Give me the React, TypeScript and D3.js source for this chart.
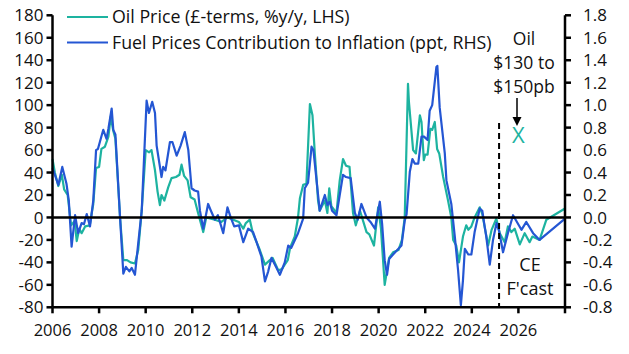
import React from "react";
import { scaleLinear, line, range } from "d3";

// Oil price, £-terms, % y/y (LHS) — [year, value]
const oilSeries: [number, number][] = [
  [2006.0, 52], [2006.1, 40], [2006.25, 28], [2006.4, 38], [2006.5, 25], [2006.65, 20],
  [2006.8, -7], [2006.95, -3], [2007.04, -21], [2007.15, -10], [2007.25, -14], [2007.4, -8],
  [2007.6, -7], [2007.75, 12], [2007.87, 44], [2008.0, 45], [2008.1, 61], [2008.25, 63],
  [2008.4, 72], [2008.5, 90], [2008.6, 78], [2008.7, 70], [2008.9, 0], [2009.04, -38],
  [2009.2, -38], [2009.35, -40], [2009.54, -41], [2009.68, -29], [2009.83, 6], [2010.0, 60],
  [2010.15, 58], [2010.25, 60], [2010.4, 42], [2010.51, 23], [2010.61, 11], [2010.68, 20],
  [2010.8, 15], [2010.97, 27], [2011.11, 35], [2011.3, 36], [2011.45, 38], [2011.54, 47],
  [2011.65, 37], [2011.8, 33], [2011.93, 18], [2012.1, 16], [2012.25, 4], [2012.47, -13],
  [2012.6, 0], [2012.97, -2], [2013.25, -4], [2013.51, 0], [2013.76, -2], [2014.0, -4],
  [2014.19, -10], [2014.3, -5], [2014.47, -2], [2014.6, -14], [2014.9, -29], [2015.12, -42],
  [2015.33, -38], [2015.45, -36], [2015.69, -47], [2015.85, -46], [2016.0, -41], [2016.1, -38],
  [2016.2, -27], [2016.4, -17], [2016.54, 0], [2016.62, 17], [2016.76, 29], [2016.9, 30],
  [2017.05, 101], [2017.16, 91], [2017.26, 57], [2017.4, 15], [2017.47, 6], [2017.69, 15],
  [2017.8, 4], [2017.88, 26], [2017.97, 10], [2018.19, 4], [2018.33, 33], [2018.47, 52],
  [2018.6, 46], [2018.75, 45], [2018.9, 4], [2019.02, -7], [2019.2, 6], [2019.48, -13],
  [2019.6, -15], [2019.8, -25], [2019.98, 9], [2020.1, -10], [2020.26, -60], [2020.45, -36],
  [2020.62, -31], [2020.85, -29], [2021.0, -20], [2021.12, 0], [2021.26, 119], [2021.3, 103],
  [2021.48, 60], [2021.6, 57], [2021.77, 91], [2021.84, 85], [2021.94, 51], [2022.0, 56],
  [2022.1, 56], [2022.22, 79], [2022.3, 78], [2022.41, 85], [2022.51, 61], [2022.6, 57],
  [2022.77, 36], [2022.98, 15], [2023.12, 0], [2023.2, -20], [2023.33, -25], [2023.45, -40],
  [2023.62, -17], [2023.76, -7], [2023.85, -11], [2023.98, -8], [2024.12, 0], [2024.34, 9],
  [2024.45, 3], [2024.7, -25], [2024.85, -11], [2025.05, -1], [2025.2, -14], [2025.41, -22],
  [2025.55, -8], [2025.7, -13], [2025.84, -10], [2026.06, -24], [2026.27, -14], [2026.48, -22],
  [2026.6, -17], [2026.91, -20], [2027.2, -2], [2028.0, 8],
];

// Fuel prices contribution to CPI inflation, ppt (RHS) — [year, value]
const fuelSeries: [number, number][] = [
  [2006.0, 0.44], [2006.25, 0.29], [2006.42, 0.45], [2006.6, 0.3], [2006.7, 0.15], [2006.82, -0.26],
  [2006.97, 0.02], [2007.1, -0.14], [2007.25, -0.05], [2007.35, -0.06], [2007.47, 0.03], [2007.61, -0.08],
  [2007.75, 0.15], [2007.87, 0.6], [2007.95, 0.61], [2008.11, 0.73], [2008.18, 0.78], [2008.32, 0.7],
  [2008.4, 0.79], [2008.54, 0.97], [2008.61, 0.78], [2008.7, 0.74], [2008.9, 0.0], [2009.04, -0.5],
  [2009.15, -0.44], [2009.3, -0.48], [2009.4, -0.45], [2009.54, -0.51], [2009.68, -0.23], [2009.83, 0.06],
  [2010.04, 1.04], [2010.14, 0.93], [2010.28, 1.03], [2010.4, 0.93], [2010.47, 0.64], [2010.68, 0.36],
  [2010.75, 0.45], [2010.85, 0.42], [2011.04, 0.67], [2011.15, 0.67], [2011.33, 0.55], [2011.5, 0.64],
  [2011.68, 0.76], [2011.83, 0.6], [2011.97, 0.26], [2012.1, 0.24], [2012.25, 0.23], [2012.33, 0.06],
  [2012.47, -0.1], [2012.68, 0.12], [2012.8, 0.06], [2012.97, -0.02], [2013.1, 0.02], [2013.33, -0.14],
  [2013.51, 0.09], [2013.65, 0.0], [2013.8, -0.08], [2014.0, -0.07], [2014.19, -0.22], [2014.4, -0.1],
  [2014.61, -0.13], [2014.76, -0.22], [2014.97, -0.35], [2015.12, -0.57], [2015.26, -0.48], [2015.4, -0.36],
  [2015.62, -0.45], [2015.76, -0.51], [2015.97, -0.4], [2016.12, -0.25], [2016.25, -0.27], [2016.54, -0.14],
  [2016.76, -0.01], [2016.83, 0.26], [2016.97, 0.31], [2017.12, 0.63], [2017.2, 0.6], [2017.47, 0.06],
  [2017.69, 0.2], [2017.8, 0.11], [2017.9, 0.14], [2018.0, 0.06], [2018.19, 0.02], [2018.47, 0.38],
  [2018.6, 0.36], [2018.8, 0.35], [2018.98, 0.04], [2019.1, -0.02], [2019.26, 0.12], [2019.48, 0.0],
  [2019.65, -0.04], [2019.84, -0.1], [2020.05, 0.14], [2020.15, -0.06], [2020.26, -0.38], [2020.36, -0.51],
  [2020.45, -0.37], [2020.62, -0.33], [2020.98, -0.25], [2021.12, -0.03], [2021.2, 0.03], [2021.34, 0.41],
  [2021.45, 0.52], [2021.55, 0.48], [2021.7, 0.48], [2021.84, 0.72], [2021.95, 0.72], [2022.1, 0.69],
  [2022.19, 0.95], [2022.3, 1.0], [2022.48, 1.34], [2022.52, 1.35], [2022.62, 0.98], [2022.84, 0.57],
  [2022.91, 0.33], [2023.12, 0.12], [2023.27, -0.17], [2023.41, -0.47], [2023.53, -0.78], [2023.62, -0.56],
  [2023.7, -0.28], [2023.85, -0.33], [2023.98, -0.33], [2024.12, -0.13], [2024.34, 0.08], [2024.45, 0.06],
  [2024.55, -0.08], [2024.62, -0.17], [2024.77, -0.42], [2024.91, -0.2], [2025.06, -0.05], [2025.17, -0.12],
  [2025.34, -0.31], [2025.55, -0.14], [2025.77, 0.02], [2026.13, -0.11], [2026.34, -0.04], [2026.63, -0.14],
  [2026.91, -0.2], [2028.0, -0.01],
];

const leftTicks = range(-80, 181, 20);
const rightTicks = range(-8, 19, 2).map((d) => d / 10);
const yearTicks = range(2006, 2027, 2);
const forecastStart = 2025.17;
const scenarioPoint = { year: 2026.0, value: 73 };
const legendLabels = ["Oil Price (£-terms, %y/y, LHS)", "Fuel Prices Contribution to Inflation (ppt, RHS)"];
const noteLines = ["Oil", "$130 to", "$150pb"];

const W = 629;
const H = 354;
const M = { top: 15.3, right: 64, bottom: 46.7, left: 52.5 };
const TEAL = "#1db3a0";
const BLUE = "#2456d3";
const FONT = "'Open Sans', sans-serif";

export default function App() {
  const x = scaleLinear().domain([2006, 2028]).range([M.left, W - M.right]);
  const yL = scaleLinear().domain([-80, 180]).range([H - M.bottom, M.top]);
  const yR = scaleLinear().domain([-0.8, 1.8]).range([H - M.bottom, M.top]);

  const oilLine = line<[number, number]>().x((d) => x(d[0])).y((d) => yL(d[1]));
  const fuelLine = line<[number, number]>().x((d) => x(d[0])).y((d) => yR(d[1]));

  const x0 = x(2006);
  const x1 = x(2028);
  const yBottom = yL(-80);
  const yTop = yL(180);

  return (
    <div style={{ position: "absolute", left: 0, top: 0 }}>
      <svg width={W} height={H} style={{ display: "block", background: "#fff" }} fontFamily={FONT}>
        {/* series */}
        <path d={oilLine(oilSeries) ?? ""} fill="none" stroke={TEAL} strokeWidth={2.2} strokeLinejoin="round" />
        <path d={fuelLine(fuelSeries) ?? ""} fill="none" stroke={BLUE} strokeWidth={2.2} strokeLinejoin="round" />

        {/* zero line */}
        <line x1={x0} x2={x1} y1={yL(0)} y2={yL(0)} stroke="#000" strokeWidth={2.5} />

        {/* forecast divider */}
        <line
          x1={x(forecastStart)}
          x2={x(forecastStart)}
          y1={yL(84)}
          y2={yBottom}
          stroke="#000"
          strokeWidth={2}
          strokeDasharray="6 4"
        />

        {/* axes */}
        <line x1={x0} x2={x0} y1={yTop} y2={yBottom} stroke="#000" strokeWidth={2.5} />
        <line x1={x1} x2={x1} y1={yTop} y2={yBottom} stroke="#000" strokeWidth={2.5} />
        <line x1={x0} x2={x1} y1={yBottom} y2={yBottom} stroke="#000" strokeWidth={2.5} />

        {leftTicks.map((t) => (
          <g key={`l${t}`}>
            <line x1={x0 - 6} x2={x0} y1={yL(t)} y2={yL(t)} stroke="#000" strokeWidth={2.5} />
            <text x={x0 - 9} y={yL(t)} dy="0.36em" textAnchor="end" fontSize={17} fill="#111">
              {t}
            </text>
          </g>
        ))}
        {rightTicks.map((t) => (
          <g key={`r${t}`}>
            <line x1={x1} x2={x1 + 6} y1={yR(t)} y2={yR(t)} stroke="#000" strokeWidth={2.5} />
            <text x={x1 + 18} y={yR(t)} dy="0.36em" textAnchor="start" fontSize={17} fill="#111">
              {t.toFixed(1)}
            </text>
          </g>
        ))}
        {[...yearTicks, 2028].map((t) => (
          <line key={`xt${t}`} x1={x(t)} x2={x(t)} y1={yBottom} y2={yBottom + 6} stroke="#000" strokeWidth={2.5} />
        ))}
        {yearTicks.map((t) => (
          <text key={`xl${t}`} x={x(t)} y={yBottom + 29} textAnchor="middle" fontSize={16.5} fill="#111">
            {t}
          </text>
        ))}

        {/* legend */}
        {legendLabels.map((label, i) => (
          <g key={label}>
            <line x1={67} x2={108} y1={17 + i * 25.5} y2={17 + i * 25.5} stroke={i === 0 ? TEAL : BLUE} strokeWidth={2.2} />
            <text x={112} y={17 + i * 25.5} dy="0.36em" fontSize={17.8} fill="#111">
              {label}
            </text>
          </g>
        ))}

        {/* scenario annotation */}
        {noteLines.map((s, i) => (
          <text key={s} x={524} y={45 + i * 24} textAnchor="middle" fontSize={17.5} fill="#111">
            {s}
          </text>
        ))}
        <line x1={517} x2={517} y1={98} y2={118} stroke="#000" strokeWidth={1.5} />
        <path d="M512.5,117 L521.5,117 L517,126 Z" fill="#000" />
        <text
          x={x(scenarioPoint.year)}
          y={yL(scenarioPoint.value)}
          dy="0.35em"
          textAnchor="middle"
          fontSize={22}
          fill={TEAL}
        >
          X
        </text>

        {/* forecast label */}
        <text x={530} y={271} textAnchor="middle" fontSize={18} fill="#111">
          CE
        </text>
        <text x={530} y={295} textAnchor="middle" fontSize={18} fill="#111">
          F'cast
        </text>
      </svg>
    </div>
  );
}
